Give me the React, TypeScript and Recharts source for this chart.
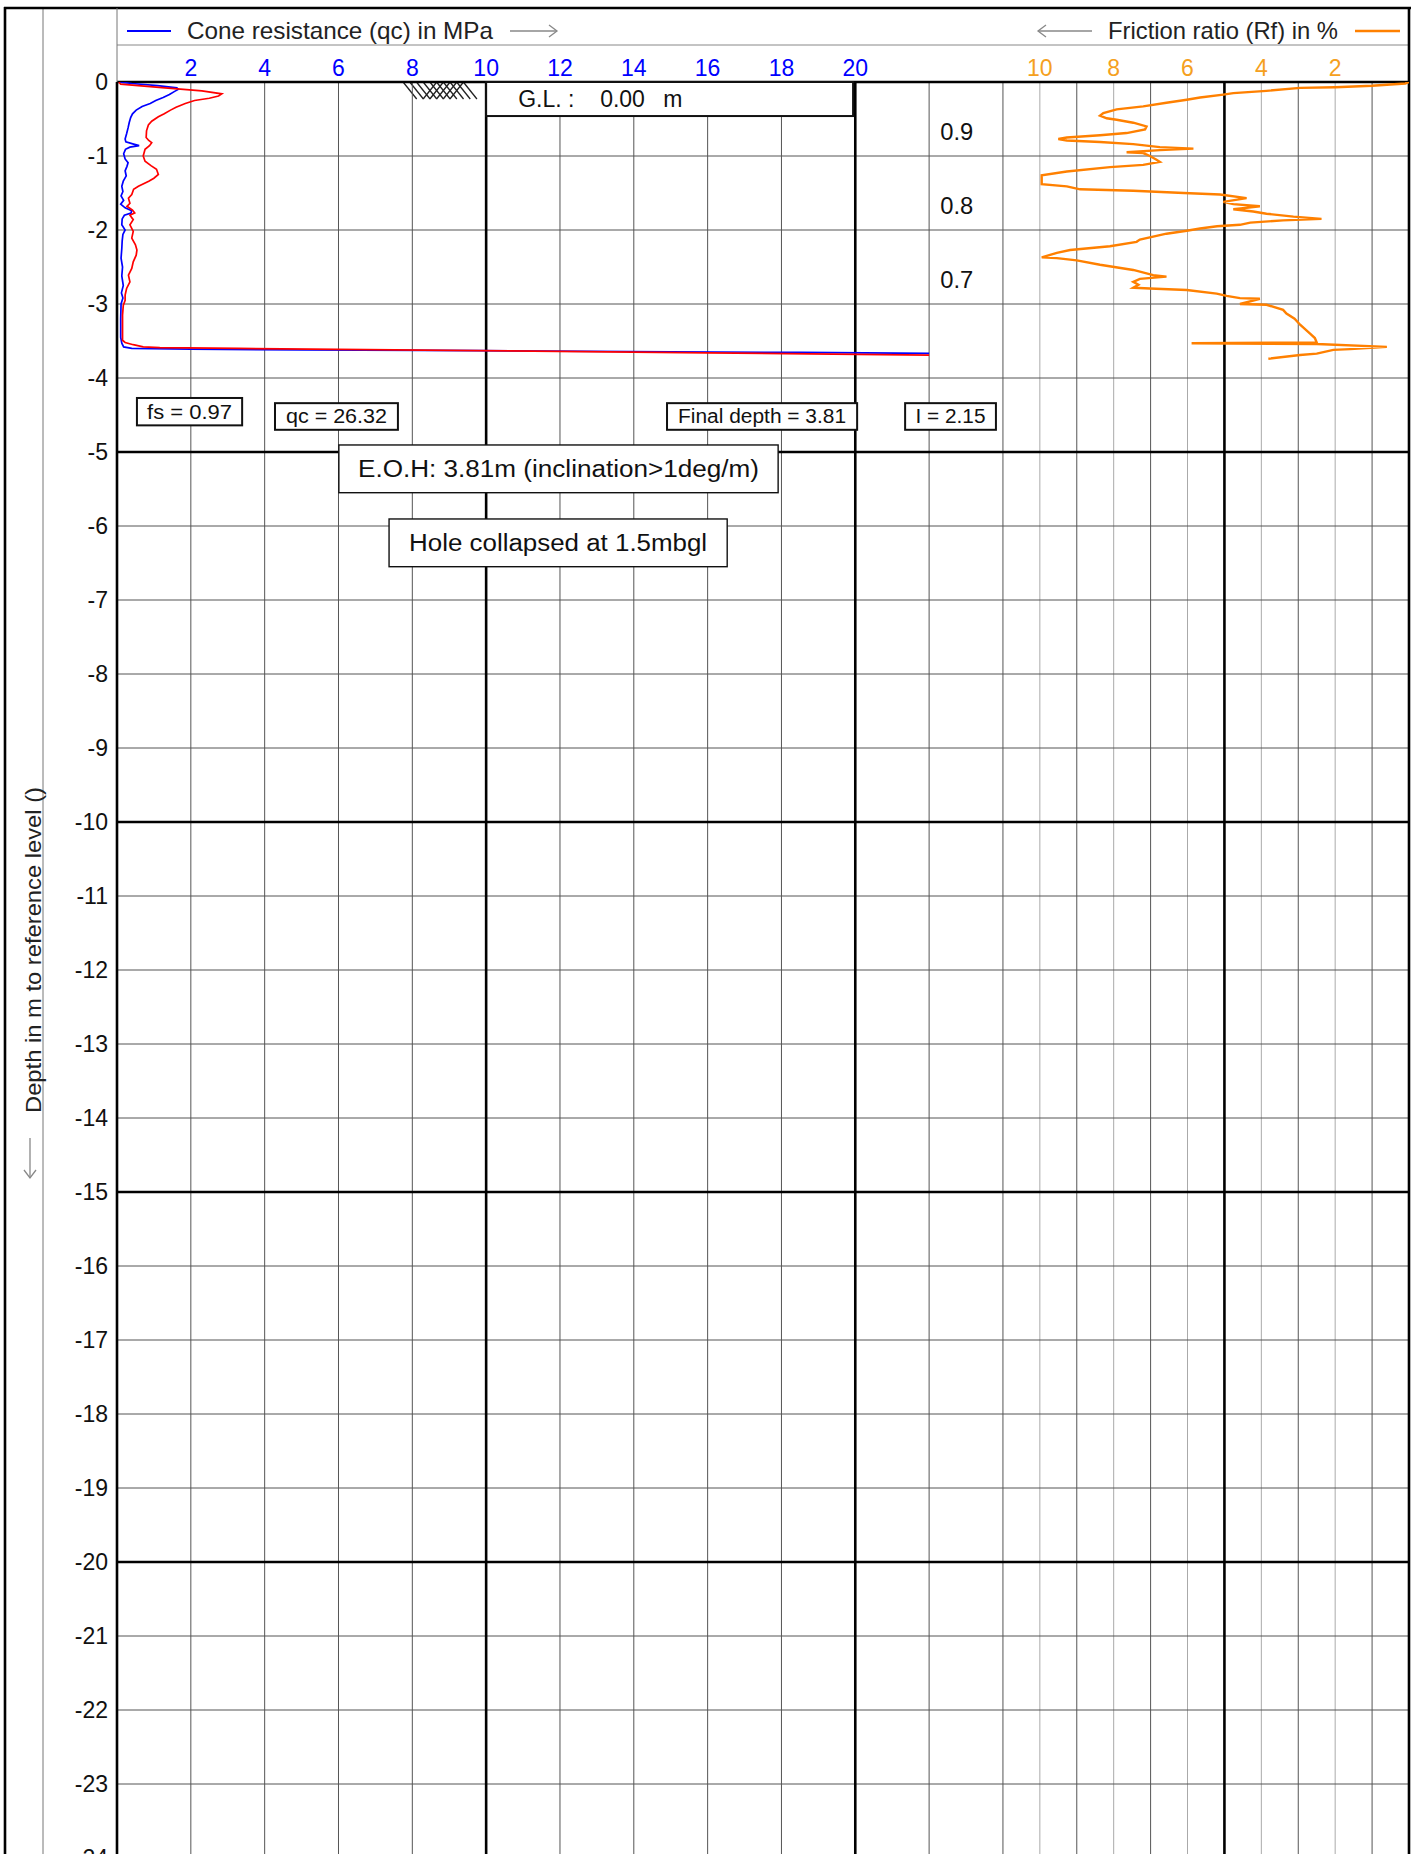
import React from "react"
import {
  ComposedChart,
  Line,
  XAxis,
  YAxis,
  ReferenceLine,
  ReferenceArea,
} from "recharts"

const FONT = '"Liberation Sans", Arial, Helvetica, sans-serif'
const BLUE = "#0000ff"
const RED = "#ff0000"
const ORANGE = "#ff8000"
const ORANGE_TEXT = "#f5a020"
const QC_MAX = 35
const DEPTH_MIN = -25

// cone resistance qc (MPa) against level (m)
const coneLevel = [
  0, -0.02, -0.05, -0.08, -0.1, -0.13, -0.17, -0.21, -0.25, -0.29, -0.33, -0.38,
  -0.43, -0.48, -0.55, -0.62, -0.7, -0.77, -0.81, -0.84, -0.86, -0.88, -0.91,
  -0.97, -1.04, -1.09, -1.14, -1.2, -1.27, -1.34, -1.41, -1.48, -1.54, -1.6,
  -1.65, -1.7, -1.74, -1.77, -1.8, -1.85, -1.93, -2.0, -2.06, -2.15, -2.25,
  -2.38, -2.5, -2.62, -2.75, -2.85, -2.92, -3.0, -3.2, -3.45, -3.53, -3.58,
  -3.6, -3.61, -3.62, -3.63, -3.645, -3.655, -3.667,
]
const coneQc = [
  0.05, 0.4, 1.1, 1.62, 1.66, 1.55, 1.42, 1.25, 1.05, 0.9, 0.68, 0.52, 0.42,
  0.37, 0.33, 0.3, 0.26, 0.22, 0.24, 0.45, 0.6, 0.35, 0.23, 0.18, 0.22, 0.3,
  0.27, 0.22, 0.25, 0.17, 0.13, 0.16, 0.11, 0.18, 0.1, 0.22, 0.4, 0.38, 0.2,
  0.14, 0.13, 0.22, 0.16, 0.14, 0.13, 0.11, 0.15, 0.13, 0.17, 0.12, 0.16, 0.11,
  0.1, 0.1, 0.13, 0.18, 0.4, 2.0, 5.0, 9.8, 15.0, 18.5, 22.0,
]

// red trace (sleeve friction), drawn on the qc scale
const sleeveLevel = [
  0, -0.03, -0.08, -0.12, -0.16, -0.19, -0.22, -0.25, -0.29, -0.34, -0.38,
  -0.43, -0.47, -0.53, -0.58, -0.66, -0.75, -0.79, -0.82, -0.86, -0.91, -1.0,
  -1.07, -1.13, -1.18, -1.25, -1.3, -1.34, -1.41, -1.45, -1.52, -1.57, -1.64,
  -1.68, -1.73, -1.77, -1.8, -1.86, -1.93, -2.02, -2.11, -2.2, -2.27, -2.34,
  -2.43, -2.52, -2.61, -2.7, -2.79, -2.88, -2.95, -3.02, -3.15, -3.33, -3.49,
  -3.52, -3.55, -3.58, -3.59, -3.6, -3.63, -3.66, -3.69,
]
const sleeveTrace = [
  0.05, 0.1, 1.3, 2.3, 2.84, 2.75, 2.5, 2.1, 1.85, 1.6, 1.45, 1.28, 1.12, 0.94,
  0.85, 0.8, 0.79, 0.86, 0.94, 0.88, 0.76, 0.71, 0.76, 0.92, 1.07, 1.12, 1.0,
  0.86, 0.58, 0.45, 0.4, 0.31, 0.35, 0.27, 0.42, 0.48, 0.35, 0.44, 0.35, 0.44,
  0.4, 0.5, 0.54, 0.52, 0.44, 0.4, 0.31, 0.35, 0.26, 0.22, 0.22, 0.17, 0.15,
  0.15, 0.15, 0.22, 0.44, 0.71, 1.16, 3.3, 9.8, 16.0, 22.0,
]

// friction ratio Rf (%) against level (m)
const frictionLevel = [
  0, -0.02, -0.05, -0.07, -0.08, -0.12, -0.15, -0.17, -0.21, -0.24, -0.28,
  -0.33, -0.37, -0.42, -0.455, -0.49, -0.51, -0.55, -0.6, -0.64, -0.69, -0.72,
  -0.75, -0.77, -0.79, -0.81, -0.84, -0.88, -0.9, -0.92, -0.95, -0.96, -1.0,
  -1.05, -1.08, -1.12, -1.15, -1.21, -1.26, -1.38, -1.41, -1.45, -1.47, -1.5,
  -1.52, -1.57, -1.62, -1.65, -1.68, -1.72, -1.75, -1.78, -1.82, -1.85, -1.87,
  -1.9, -1.93, -1.95, -1.98, -2.01, -2.05, -2.13, -2.16, -2.22, -2.27, -2.31,
  -2.37, -2.38, -2.41, -2.47, -2.54, -2.61, -2.63, -2.66, -2.7, -2.74, -2.78,
  -2.79, -2.81, -2.86, -2.89, -2.92, -2.93, -3.0, -3.01, -3.08, -3.13, -3.2,
  -3.28, -3.4, -3.46, -3.52, -3.53, -3.54, -3.58, -3.61, -3.62, -3.67, -3.69,
  -3.74,
]
const frictionRatio = [
  0, 0.1, 1.0, 2.0, 2.95, 3.86, 4.76, 5.03, 5.66, 6.02, 6.57, 7.2, 7.92, 8.28,
  8.37, 8.19, 7.92, 7.47, 7.11, 7.15, 7.65, 8.37, 9.27, 9.5, 9.27, 8.37, 7.47,
  6.75, 5.84, 6.75, 7.65, 7.2, 7.02, 6.84, 6.75, 7.2, 8.1, 9.27, 9.95, 9.95,
  9.27, 8.91, 7.47, 6.1, 5.12, 4.4, 5.03, 4.76, 4.04, 4.76, 4.22, 3.86, 3.13,
  2.37, 3.41, 4.3, 4.58, 5.2, 5.66, 6.02, 6.57, 7.29, 7.38, 8.1, 9.18, 9.54,
  9.95, 9.54, 9.0, 8.37, 7.47, 6.93, 6.57, 7.29, 7.47, 7.33, 7.47, 7.02, 6.02,
  5.21, 4.94, 4.58, 4.04, 4.58, 3.86, 3.41, 3.32, 3.1, 2.95, 2.68, 2.55, 2.5,
  5.89, 2.5, 0.6, 1.59, 2.05, 2.5, 2.95, 3.81,
]

const qcTicks = [2, 4, 6, 8, 10, 12, 14, 16, 18, 20]
const rfTicks = [10, 8, 6, 4, 2]
const depthTicks = [
  0, -1, -2, -3, -4, -5, -6, -7, -8, -9, -10, -11, -12, -13, -14, -15, -16, -17,
  -18, -19, -20, -21, -22, -23, -24,
]

const coneData = coneLevel.map((level, i) => ({ level, qc: coneQc[i] }))
const sleeveData = sleeveLevel.map((level, i) => ({ level, value: sleeveTrace[i] }))
const frictionData = frictionLevel.map((level, i) => ({ level, rf: frictionRatio[i] }))

// Rf ticks share the top row, so put them at the matching qc position
const topTicks = [...qcTicks, ...rfTicks.map((r) => QC_MAX - r)]

// grid: every 2 MPa up to 24, then every 1 (Rf %) to the right edge
const qcGrid: number[] = []
for (let v = 2; v <= 24; v += 2) qcGrid.push(v)
for (let v = 25; v < QC_MAX; v += 1) qcGrid.push(v)
const depthGrid: number[] = []
for (let d = -1; d >= DEPTH_MIN; d -= 1) depthGrid.push(d)

type Note = {
  x1: number
  x2: number
  y1: number
  y2: number
  text: string
  size: number
  length: number
  border: number
  align?: "start"
}

const notes: Note[] = [
  { x1: 0.54, x2: 3.39, y1: -4.27, y2: -4.64, text: "fs = 0.97", size: 20, length: 85, border: 2 },
  { x1: 4.28, x2: 7.61, y1: -4.34, y2: -4.7, text: "qc = 26.32", size: 20, length: 101, border: 2 },
  { x1: 14.9, x2: 20.05, y1: -4.34, y2: -4.7, text: "Final depth = 3.81", size: 20, length: 168, border: 2 },
  { x1: 21.35, x2: 23.81, y1: -4.34, y2: -4.7, text: "I = 2.15", size: 20, length: 70, border: 2 },
  { x1: 6.01, x2: 17.91, y1: -4.905, y2: -5.55, text: "E.O.H: 3.81m (inclination>1deg/m)", size: 23, length: 401, border: 1.4 },
  { x1: 7.37, x2: 16.53, y1: -5.905, y2: -6.55, text: "Hole collapsed at 1.5mbgl", size: 23, length: 298, border: 1.4 },
  { x1: 22.3, x2: 23.3, y1: -0.55, y2: -0.79, text: "0.9", size: 23, length: 33, border: 0, align: "start" },
  { x1: 22.3, x2: 23.3, y1: -1.56, y2: -1.8, text: "0.8", size: 23, length: 33, border: 0, align: "start" },
  { x1: 22.3, x2: 23.3, y1: -2.56, y2: -2.8, text: "0.7", size: 23, length: 33, border: 0, align: "start" },
]

// the shapes below get the two corner points of a ReferenceLine segment
function cornerRect(props: any) {
  const x = Math.min(props.x1, props.x2)
  const y = Math.min(props.y1, props.y2)
  return { x, y, width: Math.abs(props.x2 - props.x1), height: Math.abs(props.y2 - props.y1) }
}

function NoteShape(props: any) {
  const { x, y, width, height } = cornerRect(props)
  const n = props.note as Note
  const cy = y + height / 2 + n.size * 0.35
  return (
    <g>
      {n.border > 0 && (
        <rect x={x} y={y} width={width} height={height} fill="#fff" stroke="#111" strokeWidth={n.border} />
      )}
      <text
        x={n.align === "start" ? x : x + width / 2}
        y={cy}
        textAnchor={n.align === "start" ? "start" : "middle"}
        fontFamily={FONT}
        fontSize={n.size}
        fill="#111"
        stroke="none"
        textLength={n.length}
        lengthAdjust="spacingAndGlyphs"
      >
        {n.text}
      </text>
    </g>
  )
}

function GroundLevelBox(props: any) {
  const { x, y, width, height } = cornerRect(props)
  const base = y + height / 2 + 8
  return (
    <g fontFamily={FONT} fontSize={23}>
      <rect x={x} y={y} width={width} height={height} fill="#fff" stroke="#111" strokeWidth={2} />
      <g fill="#111" stroke="none">
        <text x={x + 32} y={base}>G.L. :</text>
        <text x={x + 114} y={base}>0.00</text>
        <text x={x + 177} y={base}>m</text>
      </g>
    </g>
  )
}

function HatchShape(props: any) {
  const { x, y, width, height } = props
  const slant = height * 0.8
  const lines = []
  for (let i = 0; i < 10; i++) {
    const x0 = x + (i * (width - slant)) / 9
    lines.push(<line key={"b" + i} x1={x0} y1={y} x2={x0 + slant} y2={y + height} />)
  }
  for (let i = 3; i < 8; i++) {
    const x0 = x + (i * (width - slant)) / 9
    lines.push(<line key={"f" + i} x1={x0 + slant} y1={y} x2={x0} y2={y + height} />)
  }
  return <g stroke="#222" strokeWidth={1.3}>{lines}</g>
}

function TopTick(props: any) {
  const { x, y, payload } = props
  const v = payload.value as number
  const isRf = v > 22
  return (
    <text
      x={x}
      y={y}
      textAnchor="middle"
      fontFamily={FONT}
      fontSize={23}
      fill={isRf ? ORANGE_TEXT : BLUE}
    >
      {isRf ? QC_MAX - v : v}
    </text>
  )
}

function Arrow({ x1, x2, y, dir }: { x1: number; x2: number; y: number; dir: "left" | "right" }) {
  const tip = dir === "right" ? x2 : x1
  const back = dir === "right" ? -8 : 8
  return (
    <g stroke="#888" strokeWidth={1.3} fill="none">
      <line x1={x1} y1={y} x2={x2} y2={y} />
      <polyline points={`${tip + back},${y - 6} ${tip},${y} ${tip + back},${y + 6}`} />
    </g>
  )
}

export default function App() {
  return (
    <div
      style={{
        position: "absolute",
        left: 0,
        top: 0,
        width: 1415,
        height: 1854,
        overflow: "hidden",
        background: "#fff",
      }}
    >
      <ComposedChart
        layout="vertical"
        width={1415}
        height={1936}
        margin={{ top: 45, right: 6, bottom: 4, left: 57 }}
      >
        <XAxis
          type="number"
          domain={[0, QC_MAX]}
          orientation="top"
          height={37}
          ticks={topTicks}
          interval={0}
          axisLine={false}
          tickLine={false}
          tickSize={0}
          tickMargin={6}
          tick={(p: any) => <TopTick {...p} />}
          allowDataOverflow
        />
        <XAxis xAxisId="rf" type="number" domain={[0, QC_MAX]} reversed hide allowDataOverflow />
        <YAxis
          type="number"
          dataKey="level"
          domain={[DEPTH_MIN, 0]}
          reversed
          ticks={depthTicks}
          interval={0}
          width={60}
          axisLine={false}
          tickLine={false}
          tickSize={0}
          tickMargin={9}
          tick={{ fill: "#111", fontSize: 23, fontFamily: FONT }}
          allowDataOverflow
        />

        {qcGrid
          .filter((v) => v % 10 !== 0)
          .map((v) => (
            <ReferenceLine
              key={"vx" + v}
              x={v}
              stroke={v > 24 && (QC_MAX - v) % 2 === 0 ? "#aaa" : "#555"}
              strokeWidth={1}
            />
          ))}
        {depthGrid
          .filter((d) => d % 5 !== 0)
          .map((d) => (
            <ReferenceLine key={"hy" + d} y={d} stroke="#555" strokeWidth={1} />
          ))}
        {[0, 10, 20, 30, QC_MAX].map((v) => (
          <ReferenceLine key={"bx" + v} x={v} stroke="#000" strokeWidth={2.6} />
        ))}
        {[0, -5, -10, -15, -20, -25].map((d) => (
          <ReferenceLine key={"by" + d} y={d} stroke="#000" strokeWidth={2.6} />
        ))}

        <ReferenceArea x1={7.75} x2={9.75} y1={0} y2={-0.23} shape={(p: any) => <HatchShape {...p} />} />
        <ReferenceLine
          segment={[{ x: 10, y: 0 }, { x: 19.94, y: -0.46 }]}
          shape={(p: any) => <GroundLevelBox {...p} />}
        />
        {notes.map((n) => (
          <ReferenceLine
            key={n.text}
            segment={[{ x: n.x1, y: n.y1 }, { x: n.x2, y: n.y2 }]}
            shape={(p: any) => <NoteShape {...p} note={n} />}
          />
        ))}

        <Line
          data={coneData}
          dataKey="qc"
          type="linear"
          stroke={BLUE}
          strokeWidth={1.7}
          dot={false}
          isAnimationActive={false}
        />
        <Line
          data={sleeveData}
          dataKey="value"
          type="linear"
          stroke={RED}
          strokeWidth={1.7}
          dot={false}
          isAnimationActive={false}
        />
        <Line
          xAxisId="rf"
          data={frictionData}
          dataKey="rf"
          type="linear"
          stroke={ORANGE}
          strokeWidth={2.4}
          dot={false}
          isAnimationActive={false}
        />
      </ComposedChart>

      <svg
        width={1415}
        height={1854}
        style={{ position: "absolute", left: 0, top: 0, pointerEvents: "none" }}
      >
        {/* frame */}
        <line x1={5} y1={7} x2={5} y2={1854} stroke="#000" strokeWidth={2.6} />
        <line x1={43} y1={8} x2={43} y2={1854} stroke="#777" strokeWidth={1} />
        <line x1={4} y1={8} x2={1411} y2={8} stroke="#000" strokeWidth={2.6} />
        <line x1={117} y1={45} x2={1409} y2={45} stroke="#888" strokeWidth={1} />
        <line x1={117} y1={8} x2={117} y2={82} stroke="#777" strokeWidth={1} />
        <line x1={1409} y1={8} x2={1409} y2={82} stroke="#000" strokeWidth={2.6} />

        {/* legend */}
        <line x1={127} y1={31} x2={171} y2={31} stroke={BLUE} strokeWidth={2} />
        <text x={187} y={39} fontFamily={FONT} fontSize={24} fill="#222" textLength={306} lengthAdjust="spacingAndGlyphs">
          Cone resistance (qc) in MPa
        </text>
        <Arrow x1={510} x2={557} y={31} dir="right" />
        <Arrow x1={1038} x2={1092} y={31} dir="left" />
        <text x={1108} y={39} fontFamily={FONT} fontSize={24} fill="#222" textLength={230} lengthAdjust="spacingAndGlyphs">
          Friction ratio (Rf) in %
        </text>
        <line x1={1355} y1={31} x2={1400} y2={31} stroke={ORANGE} strokeWidth={2.4} />

        {/* depth axis title */}
        <text
          x={41}
          y={1113}
          transform="rotate(-90 41 1113)"
          fontFamily={FONT}
          fontSize={22}
          fill="#222"
          textLength={326}
          lengthAdjust="spacingAndGlyphs"
        >
          Depth in m to reference level ()
        </text>
        <g stroke="#888" strokeWidth={1.3} fill="none">
          <line x1={30} y1={1138} x2={30} y2={1178} />
          <polyline points="24,1170 30,1178 36,1170" />
        </g>
      </svg>
    </div>
  )
}
